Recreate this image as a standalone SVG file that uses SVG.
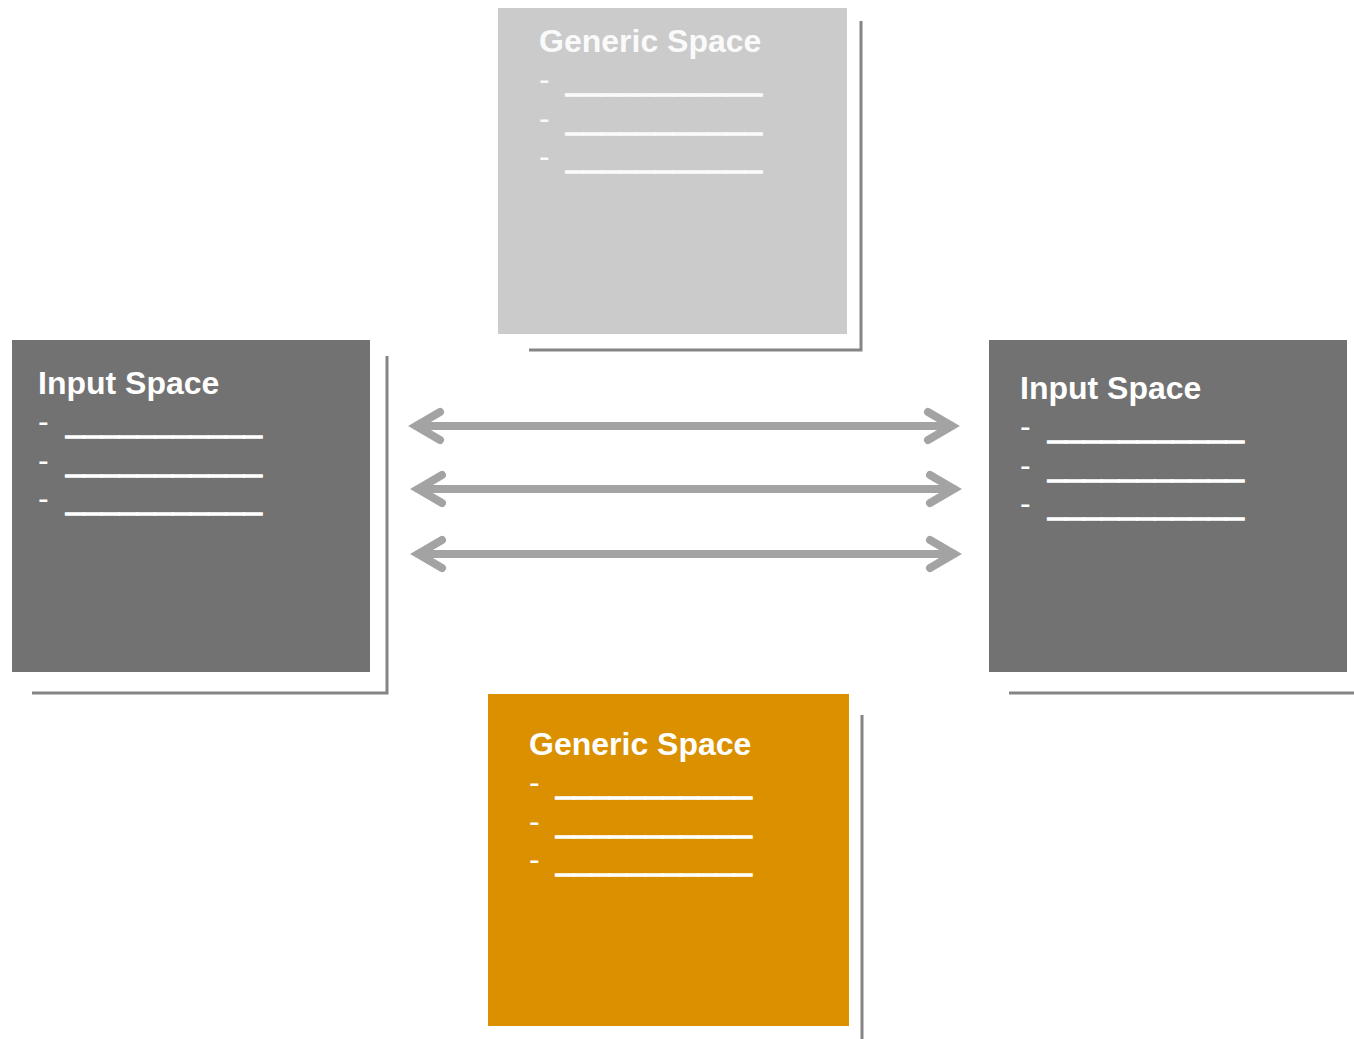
<svg xmlns="http://www.w3.org/2000/svg" width="1354" height="1039" viewBox="0 0 1354 1039">
<style>
.t{font-family:"Liberation Sans",Arial,sans-serif;font-size:32px;font-weight:bold;fill:#ffffff}
.l{font-family:"Liberation Sans",Arial,sans-serif;font-size:32px;fill:#ffffff}
.u{font-family:"Liberation Sans",Arial,sans-serif;font-size:32px;fill:#ffffff;stroke:#ffffff;stroke-width:1.3}
.sh{stroke:#858585;stroke-width:3;fill:none}
.ar{stroke:#a3a3a3;stroke-width:8;fill:none;stroke-linecap:round;stroke-linejoin:miter}
</style>
<rect width="1354" height="1039" fill="#ffffff"/>
<g id="generic-top">
<path class="sh" d="M861 21 V350 H529"/>
<rect x="498" y="8" width="349" height="326" fill="#cbcbcb"/>
<g opacity="0.92">
<text class="t" x="539" y="52">Generic Space</text>
<text class="l" x="539" y="90">-</text><text class="u" x="566" y="90">___________</text>
<text class="l" x="539" y="129">-</text><text class="u" x="566" y="129">___________</text>
<text class="l" x="539" y="167">-</text><text class="u" x="566" y="167">___________</text>
</g>
</g>
<g id="input-left">
<path class="sh" d="M387 356 V693 H32"/>
<rect x="12" y="340" width="358" height="332" fill="#727272"/>
<text class="t" x="38" y="394">Input Space</text>
<text class="l" x="38" y="432">-</text><text class="u" x="66" y="432">___________</text>
<text class="l" x="38" y="471">-</text><text class="u" x="66" y="471">___________</text>
<text class="l" x="38" y="509">-</text><text class="u" x="66" y="509">___________</text>
</g>
<g id="input-right">
<path class="sh" d="M1009 693 H1354"/>
<rect x="989" y="340" width="358" height="332" fill="#727272"/>
<text class="t" x="1020" y="399">Input Space</text>
<text class="l" x="1020" y="437">-</text><text class="u" x="1048" y="437">___________</text>
<text class="l" x="1020" y="476">-</text><text class="u" x="1048" y="476">___________</text>
<text class="l" x="1020" y="514">-</text><text class="u" x="1048" y="514">___________</text>
</g>
<g id="generic-bottom">
<path class="sh" d="M862 715 V1039"/>
<rect x="488" y="694" width="361" height="332" fill="#db9000"/>
<text class="t" x="529" y="755">Generic Space</text>
<text class="l" x="529" y="793">-</text><text class="u" x="556" y="793">___________</text>
<text class="l" x="529" y="832">-</text><text class="u" x="556" y="832">___________</text>
<text class="l" x="529" y="870">-</text><text class="u" x="556" y="870">___________</text>
</g>
<g id="connectors">
<path class="ar" d="M416 426 H952 M440 412 L416 426 L440 440 M928 412 L952 426 L928 440"/>
<path class="ar" d="M418 489 H954 M442 475 L418 489 L442 503 M930 475 L954 489 L930 503"/>
<path class="ar" d="M418 554 H954 M442 540 L418 554 L442 568 M930 540 L954 554 L930 568"/>
</g>
</svg>
